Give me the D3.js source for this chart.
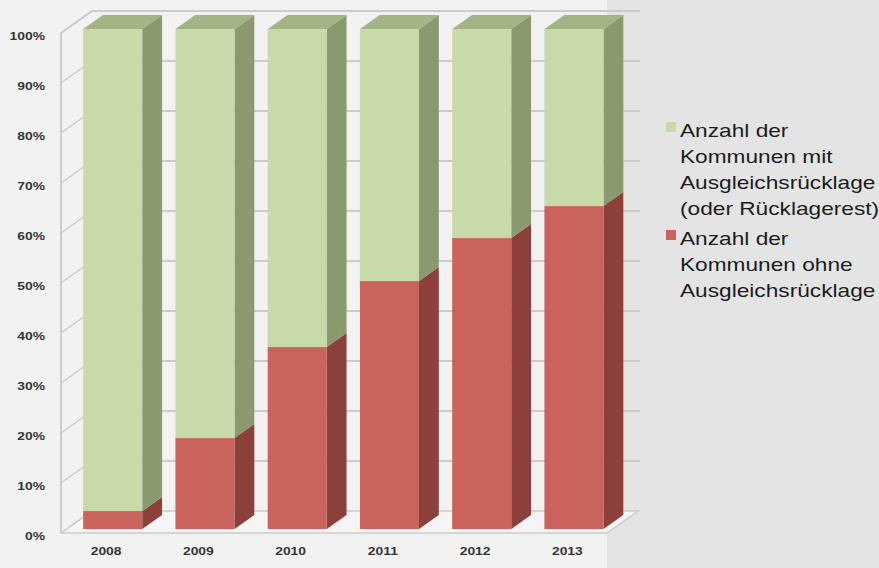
<!DOCTYPE html>
<html>
<head>
<meta charset="utf-8">
<script src="https://cdn.jsdelivr.net/npm/d3@7"></script>
<style>
  html, body { margin: 0; padding: 0; background: #e4e4e4; }
  svg { display: block; }
</style>
</head>
<body>
<svg id="chart" width="879" height="568"></svg>
<script>
// ---- data ----
const years = ["2008", "2009", "2010", "2011", "2012", "2013"];
const ohneRuecklage = [3.6, 18.2, 36.4, 49.6, 58.2, 64.6];      // red, bottom
const mitRuecklage = [96.4, 81.8, 63.6, 50.4, 41.8, 35.4];      // green, top
const yTicks = [0, 10, 20, 30, 40, 50, 60, 70, 80, 90, 100];
const legendMit = ["Anzahl der", "Kommunen mit", "Ausgleichsrücklage", "(oder Rücklagerest)"];
const legendOhne = ["Anzahl der", "Kommunen ohne", "Ausgleichsrücklage"];

// ---- setup ----
const svg = d3.select("#chart");
const W = 879, H = 568;
const DX = 31, DY = 22;              // 3D depth offset
const dFront = 0.18, dBack = 0.82;   // bar depth position
const SX = 1.26;                     // horizontal text stretch

const y = d3.scaleLinear().domain([0, 100]).range([533, 33]);
const x = d3.scaleBand().domain(years).range([61, 614.5]).paddingInner(0.36).paddingOuter(0.18);

// backgrounds
svg.append("rect").attr("x", 0).attr("y", 0).attr("width", W).attr("height", H).attr("fill", "#e4e4e4");
svg.append("rect").attr("x", 0).attr("y", 0).attr("width", 607).attr("height", H).attr("fill", "#f2f2f3");

const gridColor = "#cbcbcb";
const x0 = 61, x1 = 607;

// floor
svg.append("path")
  .attr("d", `M${x0},${y(0)}L${x1},${y(0)}L${x1 + DX},${y(0) - DY}L${x0 + DX},${y(0) - DY}Z`)
  .attr("fill", "#f5f5f6").attr("stroke", gridColor).attr("stroke-width", 1.5);

// back wall gridlines + left wall diagonals
const grid = svg.append("g");
yTicks.forEach(t => {
  if (t > 0) {
    grid.append("line")
      .attr("x1", x0 + DX).attr("x2", x1 + DX + 2)
      .attr("y1", y(t) - DY).attr("y2", y(t) - DY)
      .attr("stroke", gridColor).attr("stroke-width", 2);
  }
  grid.append("line")
    .attr("x1", x0).attr("y1", y(t))
    .attr("x2", x0 + DX).attr("y2", y(t) - DY)
    .attr("stroke", gridColor).attr("stroke-width", 1.5);
});
// left wall vertical edge
grid.append("line").attr("x1", x0).attr("x2", x0).attr("y1", y(100)).attr("y2", y(0))
  .attr("stroke", gridColor).attr("stroke-width", 2);

// bars
const colors = {
  red: { front: "#c9635c", side: "#8b403b", top: "#a8504a" },
  green: { front: "#c8daa8", side: "#8a9a6e", top: "#a3b584" }
};
const fx = dFront * DX, fy = dFront * DY, bx = dBack * DX, by = dBack * DY;

function drawSeg(g, year, v0, v1, c, isTop) {
  const l = x(year), r = x(year) + x.bandwidth();
  const yt = y(v1), yb = y(v0);
  g.append("path")
    .attr("d", `M${r + fx},${yt - fy}L${r + bx},${yt - by}L${r + bx},${yb - by}L${r + fx},${yb - fy}Z`)
    .attr("fill", c.side);
  g.append("rect")
    .attr("x", l + fx).attr("y", yt - fy)
    .attr("width", x.bandwidth()).attr("height", yb - yt)
    .attr("fill", c.front);
  if (isTop) {
    g.append("path")
      .attr("d", `M${l + fx},${yt - fy}L${r + fx},${yt - fy}L${r + bx},${yt - by}L${l + bx},${yt - by}Z`)
      .attr("fill", c.top);
  }
}
const bars = svg.append("g");
years.forEach((yr, i) => {
  const g = bars.append("g");
  drawSeg(g, yr, 0, ohneRuecklage[i], colors.red, false);
  drawSeg(g, yr, ohneRuecklage[i], ohneRuecklage[i] + mitRuecklage[i], colors.green, true);
});

// top edge of back wall
svg.append("line")
  .attr("x1", x0).attr("y1", y(100))
  .attr("x2", x0 + DX).attr("y2", y(100) - DY)
  .attr("stroke", gridColor).attr("stroke-width", 2);
svg.append("line")
  .attr("x1", x0 + DX).attr("x2", x1 + DX + 2)
  .attr("y1", y(100) - DY).attr("y2", y(100) - DY)
  .attr("stroke", gridColor).attr("stroke-width", 2);

// y axis
const yAxis = svg.append("g")
  .attr("transform", "translate(45,3)")
  .call(d3.axisLeft(y).tickValues(yTicks).tickFormat(d => d + "%").tickSize(0).tickPadding(0));
yAxis.select(".domain").remove();
yAxis.selectAll("text")
  .attr("transform", `scale(${SX},1)`)
  .style("font-family", "'Liberation Sans', Arial, sans-serif")
  .style("font-size", "11px").style("font-weight", "bold").attr("fill", "#353535");

// x axis
const xAxis = svg.append("g")
  .attr("transform", "translate(-1,547)")
  .call(d3.axisBottom(x).tickSize(0).tickPadding(0));
xAxis.select(".domain").remove();
xAxis.selectAll("text")
  .attr("transform", `scale(${SX},1)`)
  .style("font-family", "'Liberation Sans', Arial, sans-serif")
  .style("font-size", "11px").style("font-weight", "bold").attr("fill", "#353535");

// legend
function legendEntry(lines, color, squareY, firstBaseline) {
  svg.append("rect").attr("x", 666).attr("y", squareY).attr("width", 10).attr("height", 10).attr("fill", color);
  lines.forEach((t, i) => {
    svg.append("text")
      .attr("transform", `translate(680,${firstBaseline + i * 26}) scale(${SX},1)`)
      .style("font-family", "'Liberation Sans', Arial, sans-serif")
      .style("font-size", "18px")
      .attr("fill", "#1c1c1c")
      .text(t);
  });
}
legendEntry(legendMit, colors.green.front, 122, 137);
legendEntry(legendOhne, colors.red.front, 230, 245);
</script>
</body>
</html>
